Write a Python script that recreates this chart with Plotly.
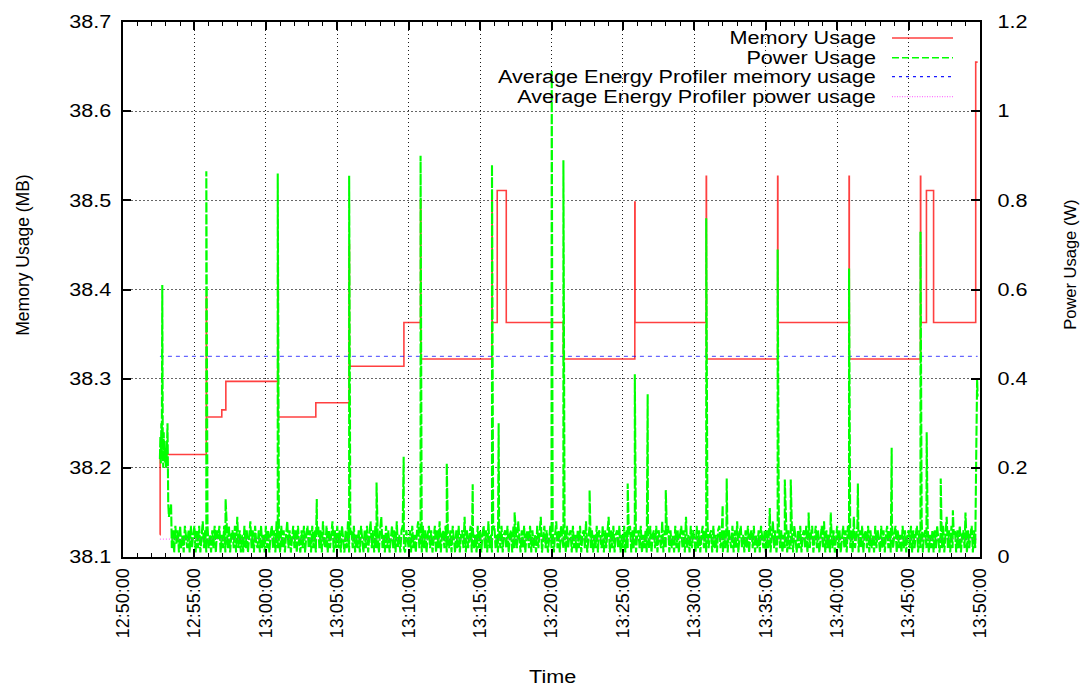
import pandas as pd
import plotly.graph_objects as go

DAY = "2013-05-20 "

# Memory usage (MB); each reading holds until the next one
mem_time = ["12:52:35", "12:52:36", "12:55:50", "12:55:51", "12:56:55", "12:57:12",
            "13:00:50", "13:00:51", "13:03:30", "13:05:50", "13:05:51", "13:09:40",
            "13:10:50", "13:10:51", "13:15:50", "13:15:51", "13:16:12", "13:16:50",
            "13:20:50", "13:25:50", "13:25:51", "13:30:50", "13:30:51", "13:35:50",
            "13:35:51", "13:40:50", "13:40:51", "13:45:50", "13:45:51", "13:46:15",
            "13:46:45", "13:49:42", "13:49:50"]
mem_mb = [38.125, 38.215, 38.392, 38.257, 38.265, 38.297,
          38.433, 38.257, 38.273, 38.450, 38.314, 38.363,
          38.500, 38.322, 38.500, 38.363, 38.511, 38.363,
          38.322, 38.498, 38.363, 38.527, 38.322, 38.527,
          38.363, 38.527, 38.322, 38.527, 38.363, 38.511,
          38.363, 38.655, 38.655]

# Idle power readings (W), one every 5 s from power_start
power_start = "12:53:25"
power_step = "5s"
power_idle_w = [
    .02, .06, .01, .07, .03, .06, .01, .07, .02, .05, .01, .07, .04, .02, .06, .01, .07, .02, .05, .07,
    .01, .06, .02, .07, .01, .05, .08, .02, .06, .01, .07, .02, .05, .01, .06, .02, .07, .01, .06, .04,
    .07, .01, .05, .02, .07, .01, .06, .02, .07, .01, .05, .06, .02, .07, .01, .09, .02, .06, .01, .05,
    .01, .07, .02, .06, .01, .05, .08, .02, .06, .01, .07, .03, .02, .06, .01, .07, .02, .05, .01, .07,
    .02, .06, .01, .05, .07, .02, .06, .01, .08, .02, .05, .01, .07, .02, .06, .01, .05, .08, .02, .06,
    .01, .05, .07, .02, .06, .01, .07, .03, .01, .06, .02, .07, .01, .05, .07, .02, .06, .01, .07, .02,
    .06, .01, .05, .07, .02, .06, .01, .08, .03, .02, .07, .01, .06, .02, .05, .08, .01, .06, .02, .07,
    .02, .06, .01, .07, .04, .01, .06, .02, .08, .01, .05, .06, .02, .07, .01, .05, .02, .06, .01, .07,
    .03, .01, .06, .02, .07, .01, .05, .08, .02, .06, .01, .07, .02, .05, .01, .06, .09, .02, .05, .01,
    .07, .02, .06, .01, .05, .07, .02, .06, .01, .08, .02, .05, .01, .06, .07, .02, .01, .06, .04, .02,
    .06, .01, .07, .02, .05, .01, .06, .08, .02, .05, .01, .07, .02, .06, .01, .05, .07, .02, .06, .01,
    .05, .07, .01, .06, .02, .08, .01, .05, .06, .02, .07, .01, .05, .02, .06, .01, .07, .04, .01, .06,
    .02, .07, .01, .05, .06, .02, .09, .01, .06, .02, .05, .07, .01, .06, .02, .05, .01, .07, .02, .06,
    .01, .05, .07, .02, .06, .01, .08, .02, .05, .01, .06, .07, .02, .05, .01, .06, .02, .07, .01, .05,
    .06, .02, .07, .01, .05, .06, .01, .07, .02, .06, .02, .08, .04, .01, .06, .02, .07, .01, .05, .06,
    .02, .07, .01, .06, .02, .05, .01, .07, .02, .06, .09, .01, .05, .07, .02, .06, .01, .05, .07, .02,
    .06, .01, .05, .08, .02, .06, .01, .07, .04, .02, .06, .01, .07, .02, .05, .06, .01, .07, .02, .05,
    .01, .06, .02, .07, .01, .05, .06, .02, .08, .01, .05, .07, .02, .06, .01, .05, .02, .07, .01, .06,
    .05, .02, .07, .01, .06, .02, .05, .09, .01, .06, .02, .07, .01, .05, .06, .02, .07, .01, .05, .02,
    .07, .01, .06, .02, .05, .07, .01, .06, .02, .08, .01, .05, .06, .02, .07, .01, .05, .02, .06, .01,
    .06, .02, .07, .01, .05, .06, .02, .07, .01, .06, .04, .02, .08, .01, .06, .02, .05, .07, .01, .06,
    .02, .05, .01, .07, .02, .06, .01, .05, .07, .02, .06, .01, .09, .02, .05, .01, .07, .02, .06, .04,
    .01, .07, .02, .06, .01, .05, .07, .02, .06, .01, .08, .02, .05, .06, .01, .07, .02, .05, .01, .06,
    .07, .02, .05, .01, .06, .02, .07, .01, .06, .04, .02, .07, .01, .06, .02, .08, .01, .05, .07, .02,
    .05, .01, .06, .02, .07, .01, .05, .06, .02, .07, .01, .05, .02, .06, .01, .07, .04, .02, .06, .01,
    .06, .02, .07, .01, .05, .08, .02, .06, .01, .05, .07, .02, .06, .01, .05, .02, .09, .01, .06, .02,
    .02, .06, .01, .07, .04, .01, .06, .02, .07, .01, .05, .06, .02, .07, .01, .06, .02, .05, .07, .01,
    .05, .07, .02, .06, .01, .05, .07, .02, .08, .01, .06, .02, .05, .01, .07, .02, .06, .01, .05, .07,
    .02, .06, .01, .05, .07, .02, .06, .01, .07, .04, .02, .06, .01, .09, .02, .05, .07, .01, .06, .02,
    .07, .01, .05, .06, .02, .07, .01, .06, .02, .05, .01, .07, .02, .06, .04, .01, .07, .02, .06, .01,
    .05, .07, .02, .06, .01, .08, .02, .05, .07, .01, .06, .02, .05, .01, .07, .02, .06, .01, .05, .06,
    .02, .07, .01, .06, .02, .05, .07, .01, .06, .02, .08, .01, .05, .06, .02, .07, .01, .05, .02, .06,
    .01, .06, .02, .07, .04, .01, .06, .02, .07, .01, .05, .09, .02, .06, .01, .07, .02, .05, .06, .01,
    .06, .02, .07, .01, .05, .06, .02, .07, .01, .06, .02, .05, .07, .01, .06, .02,
]

# Power bursts (W) recorded between the idle readings
burst_time = ["12:52:35", "12:52:37", "12:52:39", "12:52:41", "12:52:43", "12:52:45",
              "12:52:47", "12:52:49", "12:52:51", "12:52:53", "12:52:55", "12:52:57",
              "12:52:59", "12:53:01", "12:53:04", "12:53:07", "12:53:10", "12:53:13",
              "12:53:16", "12:53:19", "12:53:22",
              "12:55:50", "12:57:11", "13:00:50", "13:03:34", "13:05:50", "13:07:45",
              "13:09:39", "13:10:50", "13:12:40", "13:14:29", "13:15:50", "13:16:18",
              "13:17:25", "13:20:01", "13:20:03", "13:20:50", "13:22:40", "13:25:20",
              "13:25:50", "13:26:44", "13:28:00", "13:30:50", "13:31:59", "13:32:16",
              "13:35:17", "13:35:50", "13:36:20", "13:36:45", "13:38:00", "13:39:33",
              "13:40:50", "13:41:27", "13:43:49", "13:45:50", "13:46:16", "13:47:15",
              "13:48:06", "13:48:59", "13:49:42", "13:49:45", "13:49:48", "13:49:50"]
burst_w = [0.22, 0.27, 0.21, 0.30, 0.23, 0.61,
           0.25, 0.20, 0.28, 0.22, 0.26, 0.21,
           0.24, 0.20, 0.23, 0.30, 0.12, 0.09,
           0.11, 0.10, 0.12,
           0.865, 0.13, 0.86, 0.13, 0.855, 0.167,
           0.225, 0.90, 0.21, 0.163, 0.88, 0.30,
           0.10, 1.09, 0.57, 0.89, 0.15, 0.165,
           0.41, 0.365, 0.15, 0.76, 0.116, 0.176,
           0.11, 0.69, 0.174, 0.174, 0.10, 0.10,
           0.647, 0.165, 0.245, 0.73, 0.28, 0.176,
           0.105, 0.10, 0.20, 0.27, 0.40, 0.36]

# Profiler averages over the run
avg_mem_mb = 38.325
avg_power_w = 0.04
run_span = ["12:52:35", "13:49:50"]

mem_ticks = [38.1, 38.2, 38.3, 38.4, 38.5, 38.6, 38.7]
mem_tick_text = ["38.1", "38.2", "38.3", "38.4", "38.5", "38.6", "38.7"]
power_ticks = [0, 0.2, 0.4, 0.6, 0.8, 1.0, 1.2]
power_tick_text = ["0", "0.2", "0.4", "0.6", "0.8", "1", "1.2"]
time_ticks = ["12:50:00", "12:55:00", "13:00:00", "13:05:00", "13:10:00", "13:15:00", "13:20:00",
              "13:25:00", "13:30:00", "13:35:00", "13:40:00", "13:45:00", "13:50:00"]
legend_labels = ["Memory Usage", "Power Usage",
                 "Average Energy Profiler memory usage", "Average Energy Profiler power usage"]

FONT = "Liberation Sans, Arial, Helvetica, sans-serif"
RED = "rgba(255,0,0,0.75)"
GREEN = "#00ff00"
BLUE = "rgba(0,0,255,0.6)"
MAGENTA = "rgba(255,0,255,0.55)"

# ---- assemble the power series (idle samples + bursts, in time order)
idle_t = pd.date_range(DAY + power_start, periods=len(power_idle_w), freq=power_step)
burst_t = pd.to_datetime([DAY + t for t in burst_time])
power = pd.DataFrame({"t": list(idle_t) + list(burst_t),
                      "w": list(power_idle_w) + list(burst_w)})
power = power.sort_values("t", kind="stable")

span_t = [DAY + t for t in run_span]

fig = go.Figure()
fig.add_trace(go.Scatter(x=[DAY + t for t in mem_time], y=mem_mb, mode="lines",
                         line=dict(color=RED, width=1.6, shape="hv"), yaxis="y"))
fig.add_trace(go.Scatter(x=span_t, y=[avg_mem_mb, avg_mem_mb], mode="lines",
                         line=dict(color=BLUE, width=1.3, dash="4px,4px"), yaxis="y"))
fig.add_trace(go.Scatter(x=power["t"], y=power["w"], mode="lines",
                         line=dict(color=GREEN, width=2.1, dash="10px,2px"), yaxis="y2"))
fig.add_trace(go.Scatter(x=span_t, y=[avg_power_w, avg_power_w], mode="lines",
                         line=dict(color=MAGENTA, width=1.3, dash="1px,2px"), yaxis="y2"))

tick_font = dict(family=FONT, size=18, color="black")

fig.update_layout(
    width=1084, height=689,
    margin=dict(l=123, r=104, t=19, b=132, pad=0),
    paper_bgcolor="white", plot_bgcolor="white",
    showlegend=False,
    font=dict(family=FONT, size=18, color="black"),
    xaxis=dict(
        type="date",
        range=[DAY + "12:50:00", DAY + "13:50:00"],
        tickmode="array", tickvals=[DAY + t for t in time_ticks], ticktext=time_ticks,
        tickangle=-90, tickfont=tick_font, ticklabelstandoff=2,
        ticks="inside", ticklen=8, tickwidth=1.5, tickcolor="black",
        minor=dict(tick0=DAY + "12:50:00", dtick=60000, ticks="inside", ticklen=4,
                   tickwidth=1, tickcolor="black", showgrid=False),
        showline=True, linecolor="black", linewidth=2, mirror="ticks",
        showgrid=True, gridcolor="rgba(0,0,0,0.9)", gridwidth=1, griddash="1px,3px",
        zeroline=False,
    ),
    yaxis=dict(
        range=[38.1, 38.7],
        tickmode="array", tickvals=mem_ticks, ticktext=mem_tick_text,
        tickfont=tick_font, ticklabelstandoff=6,
        ticks="inside", ticklen=8, tickwidth=1.5, tickcolor="black",
        showline=True, linecolor="black", linewidth=2,
        showgrid=True, gridcolor="rgba(0,0,0,0.6)", gridwidth=1.3, griddash="1.5px,2.5px",
        zeroline=False,
    ),
    yaxis2=dict(
        range=[0, 1.2], overlaying="y", side="right",
        tickmode="array", tickvals=power_ticks, ticktext=power_tick_text,
        tickfont=tick_font, ticklabelstandoff=12,
        ticks="inside", ticklen=9, tickwidth=1.5, tickcolor="black",
        showline=True, linecolor="black", linewidth=2,
        showgrid=False, zeroline=False,
    ),
)

# axis titles
fig.add_annotation(text="Memory Usage (MB)", xref="paper", yref="paper", x=-0.1167, y=0.565,
                   xanchor="center", yanchor="middle",
                   textangle=-90, showarrow=False, font=dict(family=FONT, size=17.5))
fig.add_annotation(text="Power Usage (W)", xref="paper", yref="paper", x=1.104, y=0.5465,
                   xanchor="center", yanchor="middle",
                   textangle=-90, showarrow=False, font=dict(family=FONT, size=16.5))
fig.add_annotation(text="Time", xref="paper", yref="paper", x=0.5006, y=-0.2249,
                   xanchor="center", yanchor="middle",
                   showarrow=False, font=dict(family=FONT, size=18))

# key: labels right-aligned, line samples to their right
key_rows = [0.9703, 0.9331, 0.8978, 0.8606]
key_styles = [dict(color=RED, width=1.5),
              dict(color=GREEN, width=1.5, dash="7px,3px"),
              dict(color="rgba(0,0,255,0.9)", width=1.2, dash="3px,4px"),
              dict(color=MAGENTA, width=1.2, dash="1px,1.5px")]
for label, yy, st in zip(legend_labels, key_rows, key_styles):
    fig.add_annotation(text=label, xref="paper", yref="paper", x=0.8815, y=yy,
                       xanchor="right", yanchor="middle", align="right", showarrow=False,
                       font=dict(family=FONT, size=18))
    fig.add_shape(type="line", xref="paper", yref="paper", x0=0.8973, x1=0.9685,
                  y0=yy, y1=yy, line=st)

# widen upright text to the canvas' horizontal proportion
stretch_js = """
var gd = document.getElementById('{plot_id}');
var k = 1.2;
gd.querySelectorAll('text').forEach(function (t) {
  for (var n = t; n && n !== gd; n = n.parentNode) {
    var tr = n.getAttribute && n.getAttribute('transform');
    if (tr && /rotate\\(\\s*-?90/.test(tr)) return;
  }
  var w = t.getComputedTextLength();
  if (w > 0) {
    t.setAttribute('textLength', (w * k).toFixed(2));
    t.setAttribute('lengthAdjust', 'spacingAndGlyphs');
  }
});
"""

fig.write_html("out.html", config={"displayModeBar": False}, post_script=stretch_js)
